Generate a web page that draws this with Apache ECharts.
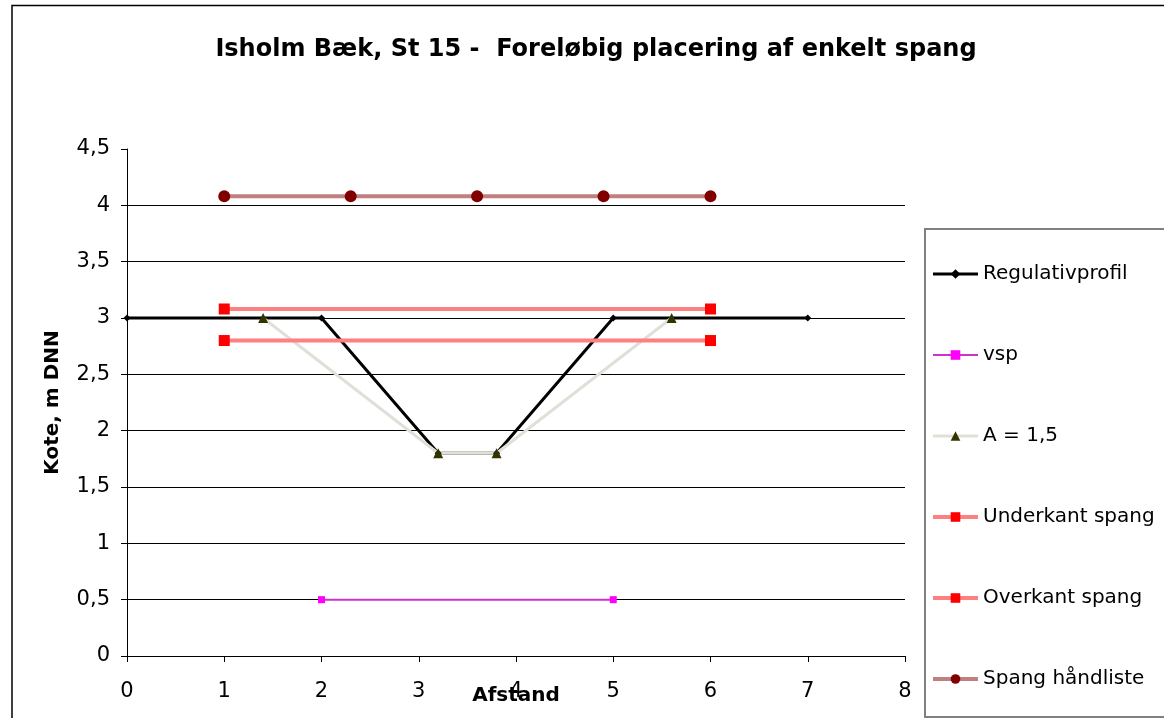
<!DOCTYPE html>
<html>
<head>
<meta charset="utf-8">
<script src="https://cdn.jsdelivr.net/npm/echarts@6/dist/echarts.min.js"></script>
<style>
html,body{margin:0;padding:0;background:#fff;}
#c{width:1164px;height:718px;}
</style>
</head>
<body>
<div id="c"></div>
<script>
var titleText = 'Isholm Bæk, St 15 -  Foreløbig placering af enkelt spang';
var seriesNames = ['Regulativprofil', 'vsp', 'A = 1,5', 'Underkant spang', 'Overkant spang', 'Spang håndliste'];
var regulativ = [[0, 3], [2, 3], [3.2, 1.8], [3.8, 1.8], [5, 3], [7, 3]];
var vsp = [[2, 0.5], [5, 0.5]];
var aProfil = [[1.4, 3], [3.2, 1.8], [3.8, 1.8], [5.6, 3]];
var underkant = [[1, 2.8], [6, 2.8]];
var overkant = [[1, 3.08], [6, 3.08]];
var haandliste = [[1, 4.08], [2.3, 4.08], [3.6, 4.08], [4.9, 4.08], [6, 4.08]];

var FONT = 'DejaVu Sans, Liberation Sans, Arial, sans-serif';
var chart = echarts.init(document.getElementById('c'), null, {renderer: 'canvas'});
var fmt = function (v) { return String(v).replace('.', ','); };

chart.setOption({
  animation: false,
  backgroundColor: '#fff',
  textStyle: {fontFamily: FONT},
  title: {
    text: titleText,
    left: 591, top: 33, textAlign: 'center',
    textStyle: {fontFamily: FONT, fontSize: 24, fontWeight: 'bold', color: '#000'}
  },
  graphic: [
    {type: 'rect', silent: true, z: -1, shape: {x: 12, y: 5.5, width: 1300, height: 900}, style: {fill: 'none', stroke: '#000', lineWidth: 1.5}},
    {type: 'rect', silent: true, z: -1, shape: {x: 925, y: 229, width: 300, height: 488}, style: {fill: '#fff', stroke: '#808080', lineWidth: 2}}
  ],
  legend: {
    orient: 'vertical', left: 926, top: 258,
    itemWidth: 45, itemHeight: 12, itemGap: 59,
    data: seriesNames,
    lineStyle: {width: 'inherit'},
    textStyle: {fontFamily: FONT, fontSize: 20, color: '#000', lineHeight: 22}
  },
  grid: {left: 127, right: 259, top: 149, bottom: 62, containLabel: false, outerBoundsMode: 'none'},
  xAxis: {
    type: 'value', min: 0, max: 8, interval: 1,
    name: 'Afstand', nameLocation: 'middle', nameGap: 30, nameMoveOverlap: false,
    nameTextStyle: {fontFamily: FONT, fontSize: 20, fontWeight: 'bold', color: '#000'},
    axisLine: {show: true, onZero: false, lineStyle: {color: '#000', width: 1}},
    axisTick: {show: true, inside: false, length: 6, lineStyle: {color: '#000'}},
    axisLabel: {fontFamily: FONT, fontSize: 21, color: '#000', margin: 25},
    splitLine: {show: false}
  },
  yAxis: {
    type: 'value', min: 0, max: 4.5, interval: 0.5,
    name: 'Kote, m DNN', nameLocation: 'middle', nameGap: 64, nameRotate: 90, nameMoveOverlap: false,
    nameTextStyle: {fontFamily: FONT, fontSize: 20, fontWeight: 'bold', color: '#000'},
    axisLine: {show: true, onZero: false, lineStyle: {color: '#000', width: 1}},
    axisTick: {show: true, inside: false, length: 6, lineStyle: {color: '#000'}},
    axisLabel: {fontFamily: FONT, fontSize: 21, color: '#000', margin: 17, formatter: fmt},
    splitLine: {show: true, showMaxLine: false, lineStyle: {color: '#000', width: 1}}
  },
  series: [
    {name: seriesNames[0], type: 'line', data: regulativ, symbol: 'diamond', symbolSize: 7,
      lineStyle: {color: '#000', width: 3}, itemStyle: {color: '#000'}},
    {name: seriesNames[1], type: 'line', data: vsp, symbol: 'rect', symbolSize: 7,
      lineStyle: {color: '#CC33CC', width: 2}, itemStyle: {color: '#FF00FF'}},
    {name: seriesNames[2], type: 'line', data: aProfil, symbol: 'triangle', symbolSize: 10,
      lineStyle: {color: '#E0E0D8', width: 3}, itemStyle: {color: '#333300'}},
    {name: seriesNames[3], type: 'line', data: underkant, symbol: 'rect', symbolSize: 11,
      lineStyle: {color: '#FF8080', width: 4}, itemStyle: {color: '#FF0000'}},
    {name: seriesNames[4], type: 'line', data: overkant, symbol: 'rect', symbolSize: 11,
      lineStyle: {color: '#FF8080', width: 4}, itemStyle: {color: '#FF0000'}},
    {name: seriesNames[5], type: 'line', data: haandliste, symbol: 'circle', symbolSize: 12,
      lineStyle: {color: '#C08080', width: 4}, itemStyle: {color: '#800000'}}
  ]
});
</script>
</body>
</html>
